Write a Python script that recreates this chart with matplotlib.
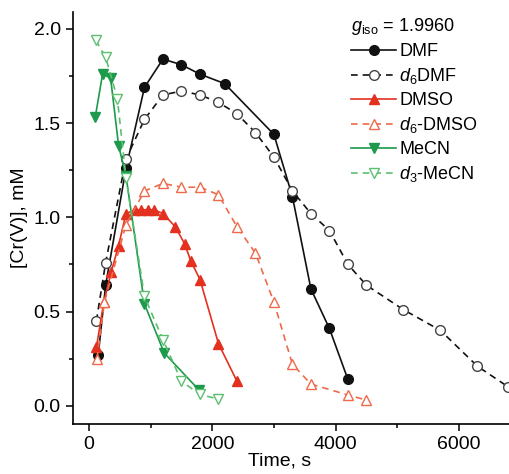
import numpy as np
import matplotlib
matplotlib.use("Agg")
import matplotlib.pyplot as plt
from matplotlib.ticker import MultipleLocator

plt.rcParams['font.family'] = ['Liberation Sans', 'DejaVu Sans']
plt.rcParams['mathtext.fontset'] = 'custom'
plt.rcParams['mathtext.rm'] = 'Liberation Sans'
plt.rcParams['mathtext.it'] = 'Liberation Sans:italic'

# data (time in s, [Cr(V)] in mM)
t_dmf = [150, 270, 600, 900, 1200, 1500, 1800, 2200, 3000, 3300, 3600, 3900, 4200]
c_dmf = [0.27, 0.64, 1.26, 1.69, 1.84, 1.81, 1.76, 1.71, 1.44, 1.11, 0.62, 0.41, 0.14]

t_d6dmf = [120, 270, 600, 900, 1200, 1500, 1800, 2100, 2400, 2700, 3000, 3300,
           3600, 3900, 4200, 4500, 5100, 5700, 6300, 6800]
c_d6dmf = [0.45, 0.76, 1.31, 1.52, 1.65, 1.67, 1.65, 1.61, 1.55, 1.45, 1.32, 1.14,
           1.02, 0.93, 0.75, 0.64, 0.51, 0.40, 0.21, 0.10]

t_dmso = [120, 240, 360, 480, 600, 750, 850, 950, 1050, 1200, 1400, 1550, 1650, 1800, 2100, 2400]
c_dmso = [0.31, 0.55, 0.71, 0.85, 1.02, 1.04, 1.04, 1.04, 1.04, 1.02, 0.95, 0.86, 0.77, 0.67, 0.33, 0.13]

t_d6dmso = [130, 250, 600, 900, 1200, 1500, 1800, 2100, 2400, 2700, 3000, 3300, 3600, 4200, 4500]
c_d6dmso = [0.25, 0.55, 0.96, 1.14, 1.18, 1.16, 1.16, 1.12, 0.95, 0.81, 0.55, 0.22, 0.115, 0.057, 0.03]

t_mecn = [100, 220, 350, 480, 600, 900, 1220, 1780]
c_mecn = [1.53, 1.76, 1.74, 1.38, 1.22, 0.54, 0.28, 0.085]

t_d3mecn = [110, 270, 460, 600, 900, 1200, 1500, 1800, 2100]
c_d3mecn = [1.94, 1.85, 1.63, 1.21, 0.58, 0.35, 0.13, 0.06, 0.035]

black = '#111111'
red = '#e3301f'
red_light = '#ef6a4a'
green = '#1d9a4c'
green_light = '#5cbf70'

fig = plt.figure(figsize=(5.1, 4.74), dpi=100)
ax = fig.add_axes([0.1425, 0.1055, 0.8575, 0.8692])

ms = 7
lw = 1.2
ax.plot(t_dmf, c_dmf, '-', color=black, lw=lw, marker='o', ms=ms, mfc=black, mec=black, label='DMF')
ax.plot(t_d6dmf, c_d6dmf, '--', color=black, lw=lw, marker='o', ms=ms, mfc='white', mec='#444444',
        label='$d_6$DMF', dashes=(4, 3))
ax.plot(t_dmso, c_dmso, '-', color=red, lw=lw, marker='^', ms=ms, mfc=red, mec=red, label='DMSO')
ax.plot(t_d6dmso, c_d6dmso, '--', color=red_light, lw=lw, marker='^', ms=ms, mfc='white', mec=red_light,
        label='$d_6$-DMSO', dashes=(4, 3))
ax.plot(t_mecn, c_mecn, '-', color=green, lw=lw, marker='v', ms=ms, mfc=green, mec=green, label='MeCN')
ax.plot(t_d3mecn, c_d3mecn, '--', color=green_light, lw=lw, marker='v', ms=ms, mfc='white', mec=green_light,
        label='$d_3$-MeCN', dashes=(4, 3))

ax.set_xlim(-265, 6830)
ax.set_ylim(-0.097, 2.09)
ax.xaxis.set_major_locator(MultipleLocator(2000))
ax.xaxis.set_minor_locator(MultipleLocator(1000))
ax.yaxis.set_major_locator(MultipleLocator(0.5))
ax.yaxis.set_minor_locator(MultipleLocator(0.25))
ax.yaxis.set_major_formatter(matplotlib.ticker.FormatStrFormatter('%.1f'))
ax.tick_params(which='major', direction='out', length=5, width=1.1, labelsize=14)
ax.tick_params(which='minor', direction='out', length=3, width=1.1)
for s in ['top', 'right']:
    ax.spines[s].set_visible(False)
for s in ['left', 'bottom']:
    ax.spines[s].set_linewidth(1.2)

ax.set_xlabel('Time, s', fontsize=14)
ax.set_ylabel('[Cr(V)], mM', fontsize=14)
ax.xaxis.set_label_coords(0.474, -0.07)

leg = ax.legend(loc='upper right', bbox_to_anchor=(0.955, 1.02), frameon=False, fontsize=13,
                title='$g_{\\rm iso}$ = 1.9960', title_fontsize=13, alignment='left',
                handlelength=2.5, handletextpad=0.15, labelspacing=0.33, borderpad=0.2)

fig.savefig('out.png', dpi=100)
